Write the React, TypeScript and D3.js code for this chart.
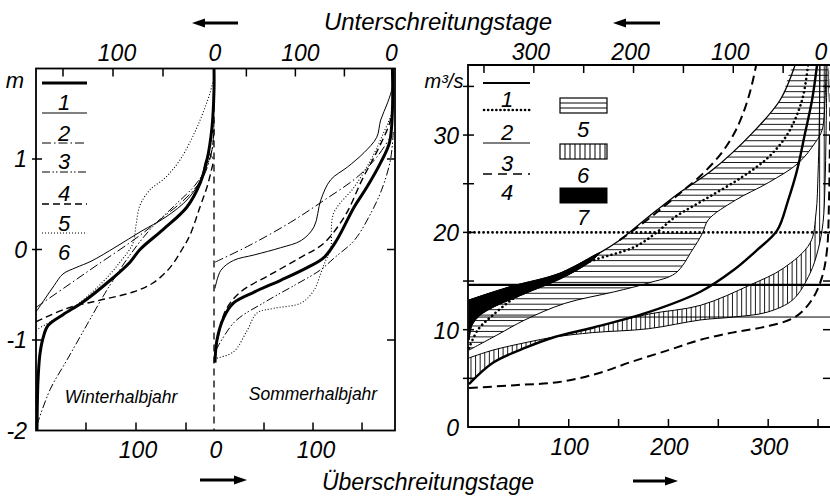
import React from "react";
import * as d3 from "d3";

type Pt = [number, number];

const FONT = "'Liberation Sans', Arial, Helvetica, sans-serif";

// ---- left chart: water level (m) against exceedance days, half years ----
// order: 1 thick, 2 thin, 3 dash-dot, 4 dash-dot-dot, 5 dashed, 6 dotted
const winter1: Pt[] = [[1, -2.0], [2, -1.45], [4, -1.15], [7, -0.98], [12, -0.84], [27, -0.72], [47, -0.58], [71, -0.37], [94, -0.14], [104, 0.0], [127, 0.22], [151, 0.47], [164, 0.73], [171, 0.99], [176, 1.35], [178, 1.76], [178, 2.0]];
const winter2: Pt[] = [[0, -0.69], [8, -0.56], [18, -0.4], [27, -0.27], [40, -0.2], [55, -0.13], [80, 0.03], [105, 0.2], [130, 0.36], [152, 0.56], [165, 0.78], [170, 0.99], [174, 1.05], [177, 1.0]];
const winter3: Pt[] = [[0, -0.64], [30, -0.41], [60, -0.18], [97, 0.1], [124, 0.33], [151, 0.58], [167, 0.8], [176, 1.1], [178, 1.43]];
const winter4: Pt[] = [[1, -1.94], [14, -1.55], [31, -1.22], [51, -0.83], [67, -0.52], [77, -0.34], [94, -0.06], [114, 0.22], [139, 0.49], [159, 0.71], [169, 0.88], [176, 1.1], [178, 1.32]];
const winter5: Pt[] = [[0, -0.8], [31, -0.65], [64, -0.56], [97, -0.47], [117, -0.37], [134, -0.2], [146, 0.0], [154, 0.16], [164, 0.47], [171, 0.69], [175, 0.86], [177, 0.95]];
const winter6: Pt[] = [[0, -0.89], [14, -0.8], [34, -0.67], [64, -0.39], [84, -0.14], [97, 0.07], [100, 0.27], [104, 0.49], [114, 0.66], [129, 0.79], [144, 0.99], [161, 1.35], [174, 1.73], [178, 1.9]];

const summer1: Pt[] = [[0, -1.25], [2, -1.0], [9, -0.75], [19, -0.59], [40, -0.47], [67, -0.34], [94, -0.2], [111, -0.09], [124, 0.1], [142, 0.47], [155, 0.69], [169, 0.96], [178, 1.18], [181, 1.54], [181, 2.0]];
const summer2: Pt[] = [[0, -0.43], [6, -0.23], [19, -0.12], [40, -0.06], [67, 0.02], [88, 0.1], [101, 0.25], [108, 0.55], [118, 0.77], [135, 0.91], [152, 1.07], [165, 1.24], [169, 1.43], [176, 1.62], [181, 1.8], [181, 1.98]];
const summer3: Pt[] = [[0, -0.14], [36, 0.05], [77, 0.3], [108, 0.52], [145, 0.8], [165, 1.02], [180, 1.26]];
const summer4: Pt[] = [[1, -1.11], [20, -0.8], [51, -0.58], [82, -0.39], [107, -0.23], [122, -0.09], [142, 0.1], [158, 0.38], [170, 0.66], [179, 0.99], [182, 1.32]];
const summer5: Pt[] = [[1, -1.11], [10, -0.69], [26, -0.47], [56, -0.28], [87, -0.09], [111, 0.07], [133, 0.38], [150, 0.77], [166, 1.1], [179, 1.43], [182, 1.76]];
const summer6: Pt[] = [[2, -1.2], [19, -1.13], [33, -0.89], [43, -0.7], [60, -0.65], [88, -0.59], [101, -0.45], [108, -0.26], [113, -0.12], [118, 0.0], [121, 0.4], [142, 0.69], [159, 0.99], [172, 1.29], [181, 1.54], [182, 1.87]];

// ---- right chart: discharge (m3/s) against exceedance days, whole year ----
const band5Upper: Pt[] = [[0, 13.05], [41, 14.4], [91, 15.8], [131, 17.9], [151, 19.2], [180, 21.6], [210, 24.0], [244, 26.4], [284, 30.2], [312, 33.6], [327, 37.2]];
const band5Lower: Pt[] = [[0, 7.9], [29, 9.5], [56, 11.0], [96, 12.7], [146, 13.9], [180, 14.8], [207, 15.8], [224, 18.2], [234, 19.9], [240, 21.3], [267, 23.3], [300, 25.1], [330, 27.1], [347, 29.2], [354, 30.5], [357, 33.6], [358, 37.2]];
const blackLower: Pt[] = [[0, 8.94], [3, 10.5], [11, 11.5], [24, 12.3], [58, 13.8], [91, 15.2], [121, 16.95], [131, 17.9]];
const band6Thick: Pt[] = [[0, 4.4], [24, 6.6], [58, 8.2], [86, 9.25], [124, 10.2], [180, 11.6], [232, 12.5], [282, 14.6], [315, 16.3], [342, 18.9], [348, 22], [350, 26], [351, 30], [352, 37.2]];
const band6Thin: Pt[] = [[0, 7.1], [24, 7.9], [58, 8.7], [86, 9.25], [124, 9.7], [180, 10.1], [232, 11.0], [265, 11.3], [299, 11.8], [325, 13.1], [342, 15.8], [350, 18.2], [355, 21], [357, 25], [358, 30], [359, 37.2]];
const dottedCurve: Pt[] = [[0, 8.1], [9, 10.0], [24, 11.5], [46, 13.3], [79, 15.1], [121, 17.0], [166, 18.5], [187, 19.9], [207, 21.6], [240, 23.6], [274, 25.7], [300, 27.7], [320, 30.2], [334, 33.6], [340, 37.2]];
const thickCurve: Pt[] = [[0, 4.4], [24, 6.6], [58, 8.2], [86, 9.25], [124, 10.2], [180, 11.8], [232, 13.9], [265, 16.1], [289, 18.2], [309, 20.2], [320, 23.3], [329, 26.4], [337, 30.2], [344, 33.6], [349, 37.2]];
const dashedUpper: Pt[] = [[151, 19.2], [170, 20.6], [190, 22.2], [210, 23.9], [232, 25.8], [252, 28.0], [265, 30.0], [274, 32.0], [282, 34.5], [288, 37.2]];
const dashedLower: Pt[] = [[0, 4.0], [46, 4.3], [89, 4.6], [129, 5.5], [163, 6.7], [200, 7.9], [230, 8.9], [264, 9.7], [297, 10.3], [327, 11.3], [344, 13.1], [354, 15.4], [359, 18.2], [361, 23.3], [362, 30], [363, 37.2]];
const levelThick = 14.6;
const levelDotted = 20.0;
const levelThin = 11.3;

// ---- ticks ----
const mTicks = [1, 0, -1];
const mLabels = ["1", "0", "-1", "-2"];
const halfTicks = [50, 100, 150];
const winterDays = 177;
const summerDays = 182;
const qTicks = [5, 10, 15, 20, 25, 30, 35];
const qLabels = [0, 10, 20, 30];
const yearTicks = [50, 100, 150, 200, 250, 300, 350];
const yearLabels = [100, 200, 300];
const yearDays = 365;

const yL = d3.scaleLinear().domain([-2, 2]).range([430.5, 68.5]);
const xW = d3.scaleLinear().domain([0, 178]).range([36, 214]);
const xS = d3.scaleLinear().domain([0, 182]).range([215, 393.4]);
const xR = d3.scaleLinear().domain([0, 365]).range([469, 833]);
const yR = d3.scaleLinear().domain([0, 37.2]).range([427, 65]);

const curve = d3.curveCatmullRom.alpha(0.5);
const lineW = d3.line<Pt>().x(p => xW(p[0])).y(p => yL(p[1])).curve(curve);
const lineS = d3.line<Pt>().x(p => xS(p[0])).y(p => yL(p[1])).curve(curve);
const lineR = d3.line<Pt>().x(p => xR(p[0])).y(p => yR(p[1])).curve(curve);

const levelStyles = [
  { w: 3, dash: undefined as string | undefined },
  { w: 1, dash: undefined },
  { w: 1, dash: "9 3 1.5 3" },
  { w: 1, dash: "8 2.5 1.5 2 1.5 2.5" },
  { w: 1.4, dash: "7 4" },
  { w: 1.1, dash: "1 2" },
];

function Arrow({ from, to, y }: { from: number; to: number; y: number }) {
  const dir = Math.sign(to - from);
  const base = to - dir * 13;
  return (
    <g>
      <line x1={from} x2={base} y1={y} y2={y} stroke="#000" strokeWidth={3} />
      <path d={`M${to},${y} L${base},${y - 4.5} L${base},${y + 4.5} Z`} fill="#000" />
    </g>
  );
}

function Txt(props: { x: number; y: number; size: number; anchor?: string; children: React.ReactNode }) {
  return (
    <text x={props.x} y={props.y} fontSize={props.size} fontFamily={FONT} fontStyle="italic"
      textAnchor={props.anchor || "middle"} fill="#000">{props.children}</text>
  );
}

export default function App() {
  const winter = [winter1, winter2, winter3, winter4, winter5, winter6];
  const summer = [summer1, summer2, summer3, summer4, summer5, summer6];
  const drawOrder = [1, 2, 3, 4, 5, 0];

  const band5Path = lineR([...band5Upper, ...[...band5Lower].reverse()]) + "Z";
  const blackPath = lineR([...blackLower, ...band5Upper.filter(p => p[0] < 131).reverse()]) + "Z";
  const band6Path = lineR([...band6Thick, ...[...band6Thin].reverse()]) + "Z";
  const hatch5 = d3.range(0.3, 37.2, 0.56);
  const hatch6 = d3.range(2, 362, 4.6);

  const legendY = [83, 113, 143, 172, 204, 233];
  const legendLabelY = [110, 141, 169, 201, 231, 260];

  return (
    <div style={{ position: "absolute", left: 0, top: 0, background: "#fff" }}>
      <svg width={830} height={501} style={{ display: "block" }}>
        <defs>
          <clipPath id="clipL"><rect x={36} y={68.5} width={359} height={362} /></clipPath>
          <clipPath id="clipR"><rect x={468} y={65} width={365} height={362} /></clipPath>
          <clipPath id="clip5"><path d={band5Path} /></clipPath>
          <clipPath id="clip6"><path d={band6Path} /></clipPath>
        </defs>
        <rect width={830} height={501} fill="#fff" />

        {/* titles */}
        <Txt x={438} y={30} size={24}>Unterschreitungstage</Txt>
        <Txt x={428} y={490} size={23}>Überschreitungstage</Txt>
        <Arrow from={238} to={192} y={23} />
        <Arrow from={660} to={613} y={23} />
        <Arrow from={200} to={247} y={480} />
        <Arrow from={633} to={678} y={481} />

        {/* ===== left chart ===== */}
        <rect x={36} y={68.5} width={359} height={362} fill="none" stroke="#000" strokeWidth={1.8} />
        <line x1={214} x2={214} y1={68.5} y2={430.5} stroke="#000" strokeWidth={1.3} strokeDasharray="7 5" />
        {mTicks.map(t => (
          <g key={t}>
            <line x1={32} x2={42} y1={yL(t)} y2={yL(t)} stroke="#000" strokeWidth={1.5} />
            <line x1={387} x2={395} y1={yL(t)} y2={yL(t)} stroke="#000" strokeWidth={1.5} />
          </g>
        ))}
        {[1, 0, -1, -2].map((t, i) => (
          <Txt key={t} x={27} y={yL(t) + 8} size={23} anchor="end">{mLabels[i]}</Txt>
        ))}
        <Txt x={15} y={88} size={22}>m</Txt>
        {halfTicks.map(t => (
          <g key={t}>
            <line x1={xW(winterDays - t)} x2={xW(winterDays - t)} y1={68.5} y2={76.5} stroke="#000" strokeWidth={1.5} />
            <line x1={xS(summerDays - t)} x2={xS(summerDays - t)} y1={68.5} y2={76.5} stroke="#000" strokeWidth={1.5} />
            <line x1={xW(t)} x2={xW(t)} y1={430.5} y2={422.5} stroke="#000" strokeWidth={1.5} />
            <line x1={xS(t)} x2={xS(t)} y1={430.5} y2={422.5} stroke="#000" strokeWidth={1.5} />
          </g>
        ))}
        <Txt x={xW(winterDays - 100) + 4} y={61} size={23}>100</Txt>
        <Txt x={xW(winterDays) + 2} y={61} size={23}>0</Txt>
        <Txt x={xS(summerDays - 100) + 5} y={61} size={23}>100</Txt>
        <Txt x={xS(summerDays) - 2} y={61} size={23}>0</Txt>
        <Txt x={xW(100) + 2} y={458} size={23}>100</Txt>
        <Txt x={xS(0) + 1} y={458} size={23}>0</Txt>
        <Txt x={xS(100) + 3} y={458} size={23}>100</Txt>

        <g clipPath="url(#clipL)" fill="none" stroke="#000">
          {drawOrder.map(i => (
            <g key={i}>
              <path d={lineW(winter[i]) || ""} strokeWidth={levelStyles[i].w} strokeDasharray={levelStyles[i].dash} />
              <path d={lineS(summer[i]) || ""} strokeWidth={levelStyles[i].w} strokeDasharray={levelStyles[i].dash} />
            </g>
          ))}
        </g>

        {levelStyles.map((s, i) => (
          <g key={i}>
            <line x1={42} x2={87} y1={legendY[i]} y2={legendY[i]} stroke="#000" strokeWidth={s.w} strokeDasharray={s.dash} />
            <Txt x={64} y={legendLabelY[i]} size={22}>{String(i + 1)}</Txt>
          </g>
        ))}
        <Txt x={121} y={403} size={17.5}>Winterhalbjahr</Txt>
        <Txt x={313} y={400} size={17.5}>Sommerhalbjahr</Txt>

        {/* ===== right chart ===== */}
        <g clipPath="url(#clipR)">
          <g clipPath="url(#clip5)">
            {hatch5.map(v => (
              <line key={v} x1={468} x2={833} y1={yR(v)} y2={yR(v)} stroke="#000" strokeWidth={0.9} />
            ))}
          </g>
          <g clipPath="url(#clip6)">
            {hatch6.map(d => (
              <line key={d} x1={xR(d)} x2={xR(d)} y1={65} y2={427} stroke="#000" strokeWidth={0.9} />
            ))}
          </g>
          <path d={blackPath} fill="#000" stroke="#000" strokeWidth={1} />

          <line x1={468} x2={833} y1={yR(levelThin)} y2={yR(levelThin)} stroke="#000" strokeWidth={1} />
          <line x1={468} x2={833} y1={yR(levelThick)} y2={yR(levelThick)} stroke="#000" strokeWidth={2.2} />
          <line x1={470} x2={833} y1={yR(levelDotted)} y2={yR(levelDotted)} stroke="#000" strokeWidth={2.6}
            strokeDasharray="0.1 4.4" strokeLinecap="round" />

          <g fill="none" stroke="#000">
            <path d={lineR(band5Upper) || ""} strokeWidth={1.3} />
            <path d={lineR(band5Lower) || ""} strokeWidth={1} />
            <path d={lineR(blackLower) || ""} strokeWidth={1.2} />
            <path d={lineR(band6Thick) || ""} strokeWidth={1} />
            <path d={lineR(band6Thin) || ""} strokeWidth={1} />
            <path d={lineR(dottedCurve) || ""} strokeWidth={2.6} strokeDasharray="0.1 4.4" strokeLinecap="round" />
            <path d={lineR(dashedUpper) || ""} strokeWidth={2} strokeDasharray="9 5" />
            <path d={lineR(dashedLower) || ""} strokeWidth={2} strokeDasharray="9 5" />
            <path d={lineR(thickCurve) || ""} strokeWidth={2.4} />
          </g>
        </g>

        <path d="M833,65 H468 V427 H833" fill="none" stroke="#000" strokeWidth={1.8} />
        {qTicks.map(t => (
          <g key={t}>
            <line x1={463} x2={474} y1={yR(t)} y2={yR(t)} stroke="#000" strokeWidth={1.5} />
            <line x1={823} x2={831} y1={yR(t)} y2={yR(t)} stroke="#000" strokeWidth={1.5} />
          </g>
        ))}
        {qLabels.map(t => (
          <Txt key={t} x={459} y={yR(t) + 9} size={23} anchor="end">{String(t)}</Txt>
        ))}
        <Txt x={444} y={88} size={20}>m³/s</Txt>
        {yearTicks.map(t => (
          <g key={t}>
            <line x1={xR(t)} x2={xR(t)} y1={427} y2={419} stroke="#000" strokeWidth={1.5} />
            <line x1={xR(yearDays - t)} x2={xR(yearDays - t)} y1={65} y2={73} stroke="#000" strokeWidth={1.5} />
          </g>
        ))}
        {yearLabels.map(t => (
          <g key={t}>
            <Txt x={xR(t) + 1} y={455} size={23}>{String(t)}</Txt>
            <Txt x={xR(yearDays - t) - 3} y={60} size={23}>{String(t)}</Txt>
          </g>
        ))}
        <Txt x={821} y={60} size={23}>0</Txt>

        {/* right legend */}
        <line x1={483} x2={530} y1={83} y2={83} stroke="#000" strokeWidth={2.2} />
        <line x1={484} x2={530} y1={110} y2={110} stroke="#000" strokeWidth={2.6} strokeDasharray="0.1 4" strokeLinecap="round" />
        <line x1={483} x2={530} y1={143} y2={143} stroke="#000" strokeWidth={1} />
        <line x1={483} x2={530} y1={174} y2={174} stroke="#000" strokeWidth={1.6} strokeDasharray="9 6" />
        {["1", "2", "3", "4"].map((s, i) => (
          <Txt key={s} x={507} y={[107, 140, 171, 200][i]} size={22}>{s}</Txt>
        ))}
        <g stroke="#000" fill="none">
          <rect x={560} y={98} width={47} height={15} strokeWidth={1.2} />
          {[103, 108].map(y => <line key={y} x1={560} x2={607} y1={y} y2={y} strokeWidth={1} />)}
          <rect x={560} y={144} width={47} height={15} strokeWidth={1.2} />
          {d3.range(565, 607, 5).map(x => <line key={x} x1={x} x2={x} y1={144} y2={159} strokeWidth={1} />)}
          <rect x={560} y={188} width={47} height={15} fill="#000" />
        </g>
        <Txt x={583} y={137} size={22}>5</Txt>
        <Txt x={583} y={183} size={22}>6</Txt>
        <Txt x={583} y={225} size={22}>7</Txt>
      </svg>
    </div>
  );
}
